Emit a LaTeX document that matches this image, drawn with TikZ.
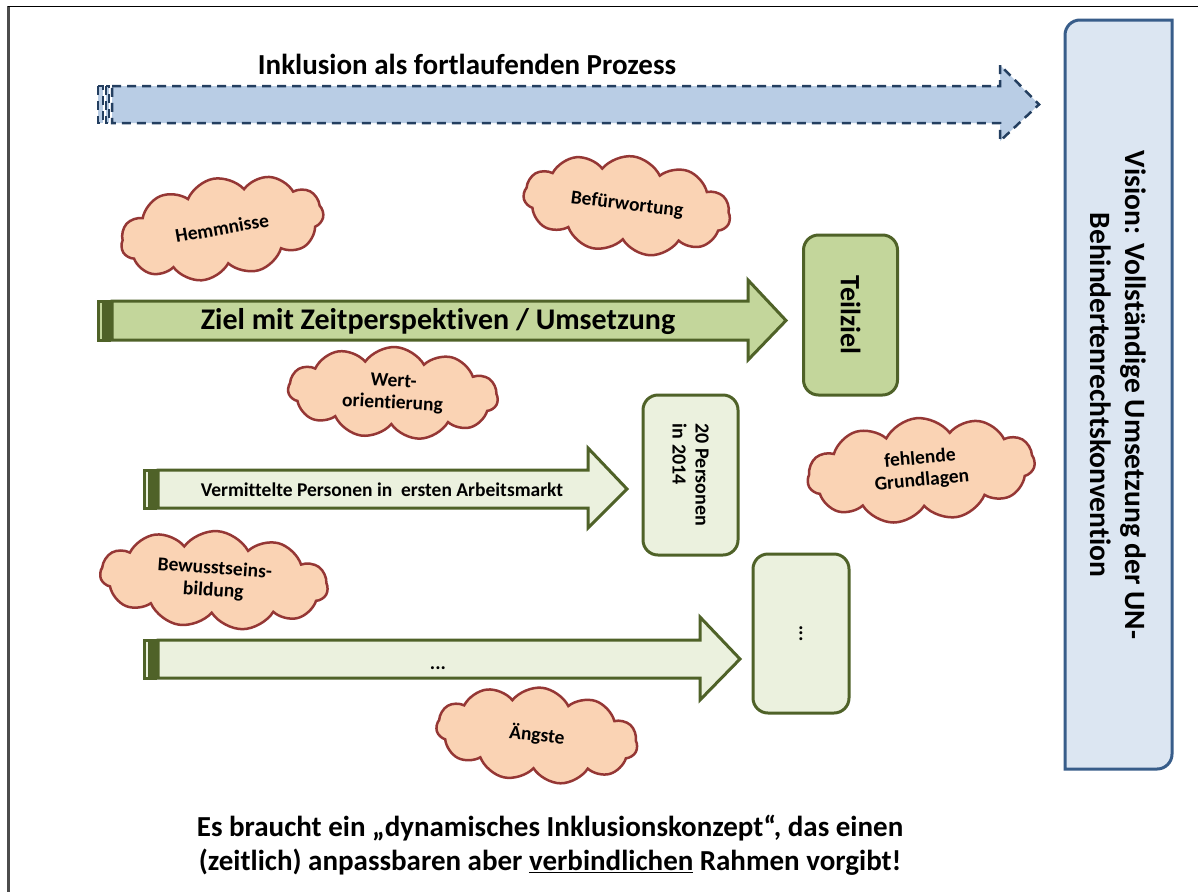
\documentclass[tikz,border=0pt]{standalone}
\usepackage{fontspec}
\setmainfont{Carlito}[Ligatures=NoCommon]
\usetikzlibrary{shapes.symbols}
\definecolor{blfill}{HTML}{B9CDE5}
\definecolor{bldash}{HTML}{243F60}
\definecolor{visfill}{HTML}{DCE6F2}
\definecolor{visline}{HTML}{385D8A}
\definecolor{gfill}{HTML}{C3D69B}
\definecolor{gline}{HTML}{4F6228}
\definecolor{lgfill}{HTML}{EBF1DE}
\definecolor{cfill}{HTML}{FAD3B4}
\definecolor{cline}{HTML}{953735}
\newcommand{\striparrow}[8]{%
 \path[#1] (#2,#5) rectangle ({#2+5},#6);
 \path[#1] ({#2+8},#5) rectangle ({#2+11},#6);
 \path[#1] ({#2+14},#5) -- (#3,#5) -- (#3,#7) -- (#4,{(#5+#6)/2}) -- (#3,#8) -- (#3,#6) -- ({#2+14},#6) -- cycle;}
\tikzset{
 procarrow/.style={fill=blfill, draw=bldash, line width=2.5pt, dash pattern=on 9pt off 6pt},
 bigarrow/.style={fill=gfill, draw=gline, line width=3pt, line join=miter},
 smallarrow/.style={fill=lgfill, draw=gline, line width=3pt, line join=miter},
 gbox/.style={draw=gline, fill=gfill, line width=3pt, rounded corners=15pt, rectangle},
 lgbox/.style={draw=gline, fill=lgfill, line width=3pt, rounded corners=15pt, rectangle},
 cloudy/.style={cloud, cloud puffs=11, cloud puff arc=115, cloud ignores aspect, draw=cline, fill=cfill, line width=2.5pt, align=center, inner sep=0pt, font=\bfseries\fontsize{19.5}{22}\selectfont},
 lbl/.style={font=\bfseries, inner sep=0pt}
}
\begin{document}
\begin{tikzpicture}[x=1pt,y=-1pt]
\useasboundingbox (0,0) rectangle (1198,892);
\fill[white] (0,0) rectangle (1198,892);
% frame
\draw[line width=2.5pt, black!70] (8.5,6) -- (8.5,892);
\draw[line width=1.5pt, black] (7.5,6.5) -- (1198,6.5);
% process arrow
\striparrow{procarrow}{98}{1000}{1039}{86}{123}{65}{141}
\node[lbl, font=\bfseries\fontsize{29}{34}\selectfont] (proc) at (467,64) {Inklusion als fortlaufenden Prozess};
% vision box
\draw[fill=visfill, draw=visline, line width=3pt]
 (1065,769) -- (1065,35) .. controls (1065,26.7) and (1071.7,20) .. (1080,20)
 -- (1172,20) -- (1172,754) .. controls (1172,762.3) and (1165.3,769) .. (1157,769) -- cycle;
\node[lbl, rotate=-90, align=center, font=\bfseries\fontsize{29.5}{35}\selectfont] (vision) at (1118,395)
 {Vision: Vollständige Umsetzung der UN-\\Behindertenrechtskonvention};
% green arrow
\striparrow{bigarrow}{98}{748}{786}{301}{340}{280}{360}
\node[lbl, font=\bfseries\fontsize{30}{34}\selectfont] (ziel) at (438,322) {Ziel mit Zeitperspektiven / Umsetzung};
\node[gbox, rotate=-90, minimum width=160pt, minimum height=94pt, font=\bfseries\fontsize{28}{32}\selectfont] (teil) at (850.5,315) {Teilziel};
% second arrow
\striparrow{smallarrow}{144}{588}{627}{470}{508}{448}{528}
\node[lbl, font=\bfseries\fontsize{19.5}{22}\selectfont] (verm) at (382,490) {Vermittelte Personen in\ \ ersten Arbeitsmarkt};
\node[lgbox, rotate=-90, minimum width=160pt, minimum height=95pt, align=left, font=\bfseries\fontsize{20}{23}\selectfont] (pers) at (690.5,475) {20 Personen\\in 2014};
% third arrow
\striparrow{smallarrow}{144}{700}{740}{640}{678}{617}{700}
\node[lbl, anchor=base, font=\bfseries\fontsize{20}{22}\selectfont] (dots) at (438,669) {...};
\node[lgbox, rotate=-90, minimum width=159pt, minimum height=96pt, font=\bfseries\fontsize{20}{22}\selectfont] (more) at (801,633.5) {...};
% clouds
\node[cloudy, rotate=10, minimum width=205pt, minimum height=100pt] (hemm) at (222,228) {Hemmnisse};
\node[cloudy, rotate=-7, minimum width=208pt, minimum height=98pt] (befu) at (627,205) {Befürwortung};
\node[cloudy, rotate=-3, minimum width=210pt, minimum height=92pt] (wert) at (393,393) {Wert-\\orientierung};
\node[cloudy, rotate=5, minimum width=228pt, minimum height=104pt] (fehl) at (921,470) {fehlende\\Grundlagen};
\node[cloudy, rotate=-4, minimum width=228pt, minimum height=98pt] (bewu) at (214,580) {Bewusstseins-\\bildung};
\node[cloudy, rotate=-6, minimum width=202pt, minimum height=95pt] (angst) at (537,735) {Ängste};
% bottom text
\node[lbl, align=center, font=\bfseries\fontsize{29}{34}\selectfont] (concl) at (550,845)
 {Es braucht ein „dynamisches Inklusionskonzept“, das einen\\(zeitlich) anpassbaren aber \underline{verbindlichen} Rahmen vorgibt!};
\end{tikzpicture}
\end{document}
